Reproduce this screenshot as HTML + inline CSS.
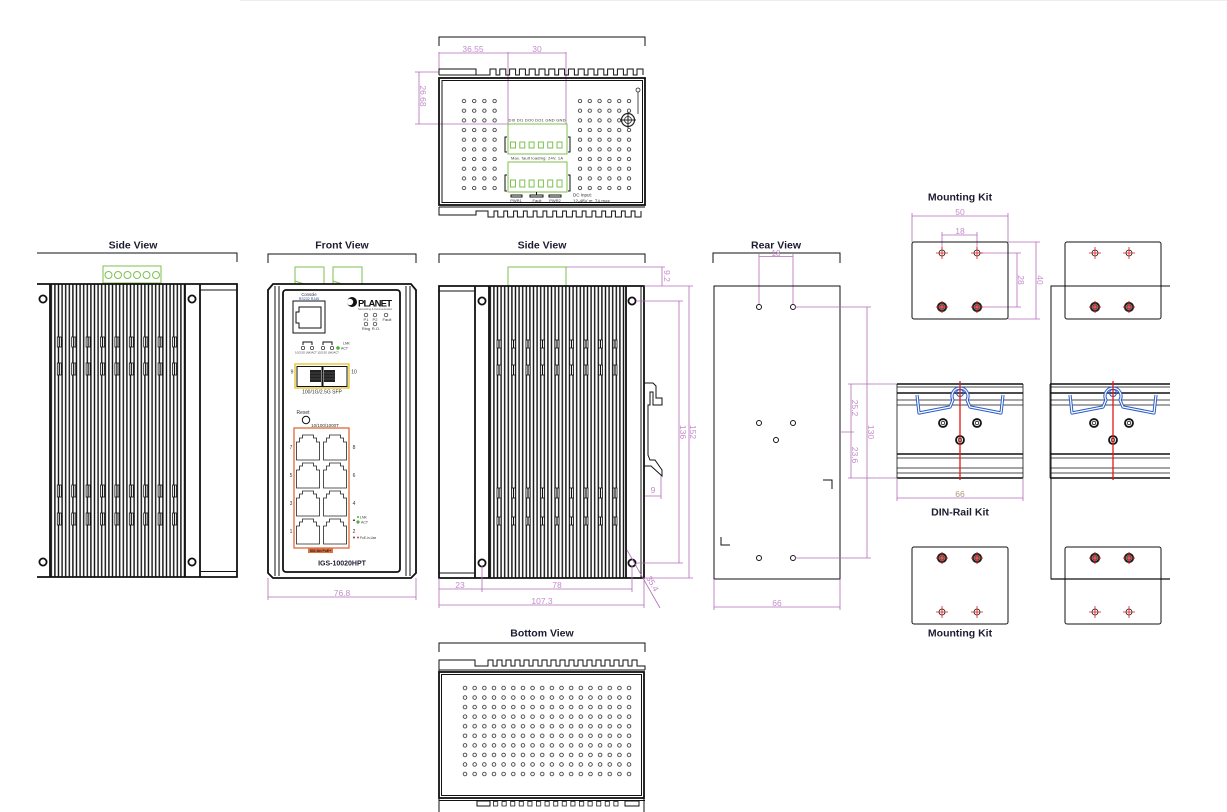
<!DOCTYPE html>
<html><head><meta charset="utf-8"><style>
html,body{margin:0;padding:0;background:#fff;width:1227px;height:812px;overflow:hidden}
svg{display:block}
text{font-family:"Liberation Sans",Arial,sans-serif}
.t{font-weight:bold;font-size:10.5px;fill:#1c1c30;text-anchor:middle}
.d{font-size:8.5px;fill:#c48ccc;text-anchor:middle}
.s{font-size:4px;fill:#333;text-anchor:middle}
.m{stroke:#b26cb8;stroke-width:.8;fill:none}
.g{stroke:#7cc24e;stroke-width:1;fill:none}
.k{stroke:#111;fill:none;stroke-width:1}
.K{stroke:#111;fill:none;stroke-width:1.8}
</style></head><body>
<svg width="1227" height="812" viewBox="0 0 1227 812" xmlns="http://www.w3.org/2000/svg">
<defs>
<pattern id="finL" x="50" y="0" width="3.6" height="10" patternUnits="userSpaceOnUse"><rect x="0.6" y="0" width="1.4" height="10" fill="#111"/></pattern>
<pattern id="finM" x="489" y="0" width="3.6" height="10" patternUnits="userSpaceOnUse"><rect x="0.6" y="0" width="1.4" height="10" fill="#111"/></pattern>
<pattern id="dT1" x="458.9" y="96.2" width="10.2" height="9.67" patternUnits="userSpaceOnUse"><circle cx="5.1" cy="4.83" r="1.7" fill="none" stroke="#222" stroke-width=".8"/></pattern>
<pattern id="dT2" x="575.1" y="96.2" width="9.8" height="9.67" patternUnits="userSpaceOnUse"><circle cx="4.9" cy="4.83" r="1.7" fill="none" stroke="#222" stroke-width=".8"/></pattern>
<pattern id="dB" x="460.2" y="683.2" width="9.65" height="9.56" patternUnits="userSpaceOnUse"><circle cx="4.82" cy="4.78" r="1.8" fill="none" stroke="#222" stroke-width=".8"/></pattern>
<pattern id="sq" x="493" y="801" width="8.6" height="6" patternUnits="userSpaceOnUse"><rect x=".4" y=".4" width="4.2" height="4.6" fill="none" stroke="#222" stroke-width=".8"/></pattern>
<path id="rj" d="M0,25 V7 H3 V3 H6 V0 H17 V3 H20 V7 H23 V25 Z" fill="none" stroke="#222" stroke-width=".8"/>
<g id="hx"><circle r="3" fill="#fff" stroke="#111" stroke-width=".8"/><path d="M-6,0 H6 M0,-6 V6" stroke="#e01818" stroke-width=".8"/></g>
<g id="hf"><circle r="4" fill="#fff" stroke="#222" stroke-width="2.2"/><circle r="2" fill="none" stroke="#111" stroke-width=".8"/><path d="M-6,0 H6 M0,-6 V6" stroke="#e01818" stroke-width="1"/></g>
<g id="ring"><circle r="4" fill="#fff" stroke="#111" stroke-width="1.8"/><circle r="1.8" fill="none" stroke="#111" stroke-width=".8"/></g>
<g id="scr"><circle r="3.6" fill="#fff" stroke="#111" stroke-width="1.8"/></g>
<g id="nt"><rect x="-2" y="0" width="4" height="1" fill="#fff"/></g>
<g id="clip"><path d="M-43,11 L-41,29 L-10,23 L-7,16 A8,8 0 1 1 7,16 L10,23 L41,29 L43,11" fill="none" stroke="#2a5cc8" stroke-width="3.2" stroke-linejoin="round"/><path d="M-43,11 L-41,29 L-10,23 L-7,16 A8,8 0 1 1 7,16 L10,23 L41,29 L43,11" fill="none" stroke="#fff" stroke-width="1.2" stroke-linejoin="round"/><circle cx="0" cy="9" r="3.5" fill="none" stroke="#2a5cc8" stroke-width="1"/></g>
</defs>

<line x1="240" y1="0.5" x2="1227" y2="0.5" stroke="#eee" stroke-width="1"/>

<!-- ================= TOP VIEW ================= -->
<path class="k" d="M439,46 V37 H645 V46"/>
<path class="m" d="M439,53 H566 M439,52 V72 M508,52 V124 M566,52 V124 M419,72 V124 M415,72 H439 M415,124 H508"/>
<text class="d" x="473" y="52">36.55</text>
<text class="d" x="537" y="52">30</text>
<text class="d" transform="translate(420,96) rotate(90)">26.68</text>
<path class="k" d="M439,75 V69 H476 V75 H490 v-6h6v6h3.8 v-6h6v6h3.8 v-6h6v6h3.8 v-6h6v6h3.8 v-6h6v6h3.8 v-6h6v6h3.8 v-6h6v6h3.8 v-6h6v6h3.8 v-6h6v6h3.8 v-6h6v6h3.8 v-6h6v6h3.8 v-6h6v6h3.8 v-6h6v6h3.8 v-6h6v6h3.8 v-6h6v6h3.8 v-6h6v6" />
<line x1="439" y1="75" x2="476" y2="75" stroke="#111"/>
<rect x="439" y="78" width="206" height="127" class="K"/>
<rect x="442" y="80.5" width="200.5" height="122" class="k" stroke-width=".8"/>
<path class="k" d="M439,207 H645 M439,207 V215 H476 V211 H488 v6h6v-6h3.8 v6h6v-6h3.8 v6h6v-6h3.8 v6h6v-6h3.8 v6h6v-6h3.8 v6h6v-6h3.8 v6h6v-6h3.8 v6h6v-6h3.8 v6h6v-6h3.8 v6h6v-6h3.8 v6h6v-6h3.8 v6h6v-6h3.8 v6h6v-6h3.8 v6h6v-6h3.8 v6h6v-6h3.8 v6h6v-6"/>
<rect x="458.9" y="96.2" width="40.8" height="96.7" fill="url(#dT1)"/>
<rect x="575.1" y="96.2" width="58.8" height="96.7" fill="url(#dT2)"/>
<circle cx="638" cy="90" r="2" fill="#fff" stroke="#222" stroke-width=".8"/>
<line x1="638" y1="92" x2="638" y2="114" stroke="#222" stroke-width=".8"/>
<circle cx="628" cy="120" r="6.5" fill="#fff" stroke="#222" stroke-width="1.2"/>
<circle cx="628" cy="120" r="3.5" fill="none" stroke="#222" stroke-width=".8"/>
<path d="M620,120 H636 M628,112 V128" stroke="#222" stroke-width="1"/>
<!-- terminals -->
<text class="s" x="537" y="121.5" textLength="57">DI0  DI1  DO0 DO1 GND GND</text>
<rect x="508" y="124" width="59" height="30" class="g"/>
<path class="k" d="M507,137 H505 V152 H507 M568,137 H570 V152 H568"/>
<g class="g"><rect x="510.5" y="142" width="5" height="6"/><rect x="519.8" y="142" width="5" height="6"/><rect x="529.1" y="142" width="5" height="6"/><rect x="538.4" y="142" width="5" height="6"/><rect x="547.7" y="142" width="5" height="6"/><rect x="557" y="142" width="5" height="6"/></g>
<text class="s" x="537" y="159.5" textLength="52">Max. fault loading: 24V, 1A</text>
<rect x="508" y="162" width="59" height="30" class="g"/>
<path class="k" d="M507,175 H505 V191 H507 M568,175 H570 V191 H568"/>
<g class="g"><rect x="510.5" y="180" width="5" height="7"/><rect x="519.8" y="180" width="5" height="7"/><rect x="529.1" y="180" width="5" height="7"/><rect x="538.4" y="180" width="5" height="7"/><rect x="547.7" y="180" width="5" height="7"/><rect x="557" y="180" width="5" height="7"/></g>
<path class="k" stroke-width=".7" d="M511,195 H522 V197 H511 Z M530,195 H543 V197 H530 Z M549,195 H561 V197 H549 Z M536.5,192 V195"/>
<text class="s" x="516" y="202">PWR1</text>
<text class="s" x="537" y="202">Fault</text>
<text class="s" x="555" y="202">PWR2</text>
<text class="s" x="573" y="196.5" style="text-anchor:start;font-size:4.5px">DC Input:</text>
<text class="s" x="573" y="202.5" style="text-anchor:start;font-size:4.5px">12-48V ⎓, 7A max.</text>

<!-- ================= LEFT SIDE VIEW ================= -->
<text class="t" x="133" y="248.5">Side View</text>
<path class="k" d="M37,253 H237 V262"/>
<rect x="103" y="266" width="58" height="17" class="g"/>
<g class="g"><circle cx="108.5" cy="275" r="3.5"/><circle cx="118" cy="275" r="3.5"/><circle cx="127.5" cy="275" r="3.5"/><circle cx="137" cy="275" r="3.5"/><circle cx="146.5" cy="275" r="3.5"/><circle cx="156" cy="275" r="3.5"/></g>
<rect x="50" y="284" width="135" height="293" fill="url(#finL)"/>
<g fill="#fff" stroke="#111" stroke-width=".8">
<rect x="57.3" y="337" width="4" height="10"/><rect x="71.7" y="337" width="4" height="10"/><rect x="86.1" y="337" width="4" height="10"/><rect x="100.5" y="337" width="4" height="10"/><rect x="114.9" y="337" width="4" height="10"/><rect x="129.3" y="337" width="4" height="10"/><rect x="143.7" y="337" width="4" height="10"/><rect x="158.1" y="337" width="4" height="10"/><rect x="172.5" y="337" width="4" height="10"/>
<rect x="57.3" y="363" width="4" height="12"/><rect x="71.7" y="363" width="4" height="12"/><rect x="86.1" y="363" width="4" height="12"/><rect x="100.5" y="363" width="4" height="12"/><rect x="114.9" y="363" width="4" height="12"/><rect x="129.3" y="363" width="4" height="12"/><rect x="143.7" y="363" width="4" height="12"/><rect x="158.1" y="363" width="4" height="12"/><rect x="172.5" y="363" width="4" height="12"/>
<rect x="57.3" y="485" width="4" height="12"/><rect x="71.7" y="485" width="4" height="12"/><rect x="86.1" y="485" width="4" height="12"/><rect x="100.5" y="485" width="4" height="12"/><rect x="114.9" y="485" width="4" height="12"/><rect x="129.3" y="485" width="4" height="12"/><rect x="143.7" y="485" width="4" height="12"/><rect x="158.1" y="485" width="4" height="12"/><rect x="172.5" y="485" width="4" height="12"/>
<rect x="57.3" y="513" width="4" height="12"/><rect x="71.7" y="513" width="4" height="12"/><rect x="86.1" y="513" width="4" height="12"/><rect x="100.5" y="513" width="4" height="12"/><rect x="114.9" y="513" width="4" height="12"/><rect x="129.3" y="513" width="4" height="12"/><rect x="143.7" y="513" width="4" height="12"/><rect x="158.1" y="513" width="4" height="12"/><rect x="172.5" y="513" width="4" height="12"/>
</g>
<g stroke="#111" stroke-width="1.2">
<path d="M59.3,337 V347 M73.7,337 V347 M88.1,337 V347 M102.5,337 V347 M116.9,337 V347 M131.3,337 V347 M145.7,337 V347 M160.1,337 V347 M174.5,337 V347"/>
<path d="M59.3,363 V375 M73.7,363 V375 M88.1,363 V375 M102.5,363 V375 M116.9,363 V375 M131.3,363 V375 M145.7,363 V375 M160.1,363 V375 M174.5,363 V375"/>
<path d="M59.3,485 V497 M73.7,485 V497 M88.1,485 V497 M102.5,485 V497 M116.9,485 V497 M131.3,485 V497 M145.7,485 V497 M160.1,485 V497 M174.5,485 V497"/>
<path d="M59.3,513 V525 M73.7,513 V525 M88.1,513 V525 M102.5,513 V525 M116.9,513 V525 M131.3,513 V525 M145.7,513 V525 M160.1,513 V525 M174.5,513 V525"/>
</g>
<path class="K" d="M37,284 H237 V577 H37 M50,284 V577 M185,284 V577 M200,284 V577"/>
<path class="k" d="M200,290 H237 M200,571.5 H237"/>
<use href="#scr" x="43" y="299"/><use href="#scr" x="43" y="562"/>
<use href="#scr" x="192" y="299"/><use href="#scr" x="192" y="562"/>

<!-- ================= FRONT VIEW ================= -->
<text class="t" x="342" y="248.5">Front View</text>
<path class="k" d="M268,263 V254 H416 V263"/>
<path class="g" d="M295,284 V267 H324 V284 M295,281 L304,284 M333,284 V267 H362 V284 M333,281 L342,284"/>
<path class="K" d="M273,284 H411 L416,290 V573 L411,578 H273 L268,573 V290 Z"/>
<path class="k" d="M275,286 V576 M279,286 V576 M406,286 V576 M410,286 V576"/>
<rect x="283" y="290" width="117" height="282" rx="3" class="K" stroke-width="1.5"/>
<text class="s" x="309" y="296" style="font-size:4.2px">Console</text>
<text class="s" x="309" y="299.8" style="font-size:3.6px;fill:#2a4aa0">RS232 RJ45</text>
<rect x="293" y="301" width="32" height="32" class="k"/>
<path class="k" stroke-width=".8" d="M299,307 H321 V328 H299 V323 H296 V312 H299 Z"/>
<circle cx="352" cy="302" r="5" fill="#111"/>
<circle cx="350" cy="302" r="3.2" fill="#fff"/>
<text x="358" y="306.5" style="font-size:9.5px;font-weight:bold;fill:#111" textLength="34">PLANET</text>
<text x="358" y="310" style="font-size:2.6px;fill:#555">Networking &amp; Communication</text>
<g fill="#fff" stroke="#222" stroke-width=".7"><circle cx="366" cy="315" r="1.8"/><circle cx="375" cy="315" r="1.8"/><circle cx="386" cy="315" r="1.8"/><circle cx="366" cy="324" r="1.8"/><circle cx="375" cy="324" r="1.8"/></g>
<text class="s" x="366" y="321">P1</text><text class="s" x="375" y="321">P2</text><text class="s" x="387" y="321">Fault</text>
<text class="s" x="366" y="330">Ring</text><text class="s" x="376" y="330">R.O.</text>
<path class="k" stroke-width=".6" d="M303,345 V342 H312 V345 M323,345 V342 H332 V345"/>
<g fill="#fff" stroke="#222" stroke-width=".7"><circle cx="303" cy="348" r="1.7"/><circle cx="312" cy="348" r="1.7"/><circle cx="323" cy="348" r="1.7"/><circle cx="332" cy="348" r="1.7"/></g>
<circle cx="338" cy="348" r="1.8" fill="#4caf3c"/>
<text class="s" x="343" y="344.5" style="text-anchor:start;font-size:3.5px">LNK</text>
<text class="s" x="341" y="349.5" style="text-anchor:start;font-size:3.5px">ACT</text>
<text class="s" x="317" y="353.5" style="font-size:2.6px">1G/2.5G LNK/ACT 1G/2.5G LNK/ACT</text>
<rect x="295" y="364" width="54" height="24" fill="none" stroke="#e8c020" stroke-width="1.3"/>
<rect x="297" y="366.5" width="25" height="20" class="k" stroke-width=".8"/>
<rect x="323" y="366.5" width="24" height="20" class="k" stroke-width=".8"/>
<rect x="310" y="370" width="11" height="12" fill="#222"/>
<rect x="324" y="370" width="11" height="12" fill="#222"/>
<path d="M310,373 H335 M310,376 H335 M310,379 H335" stroke="#666" stroke-width=".5"/>
<text class="s" x="292" y="373.5" style="font-size:5px">9</text>
<text class="s" x="354" y="373.5" style="font-size:5px">10</text>
<text class="s" x="322" y="393.5" style="font-size:5px">100/1G/2.5G SFP</text>
<text class="s" x="303" y="414" style="font-size:5px">Reset</text>
<circle cx="306" cy="420" r="3.7" class="k"/>
<text class="s" x="325" y="427" style="font-size:4.5px">10/100/1000T</text>
<rect x="294" y="428" width="55" height="120" fill="none" stroke="#e06a3a" stroke-width="1.3"/>
<use href="#rj" x="296.5" y="435"/><use href="#rj" x="323.5" y="435"/>
<use href="#rj" x="296.5" y="463"/><use href="#rj" x="323.5" y="463"/>
<use href="#rj" x="296.5" y="491"/><use href="#rj" x="323.5" y="491"/>
<use href="#rj" x="296.5" y="519"/><use href="#rj" x="323.5" y="519"/>
<g class="s" style="font-size:5px"><text x="291" y="449">7</text><text x="291" y="477">5</text><text x="291" y="505">3</text><text x="291" y="533">1</text>
<text x="354" y="449">8</text><text x="354" y="477">6</text><text x="354" y="505">4</text><text x="354" y="533">2</text></g>
<text class="s" x="354" y="521" style="font-size:4px">▲</text>
<circle cx="358" cy="517" r="1" fill="#4caf3c"/>
<text class="s" x="360" y="518.5" style="text-anchor:start;font-size:3.5px">LNK</text>
<circle cx="358" cy="522" r="1.6" fill="#4caf3c"/>
<text class="s" x="361" y="523.5" style="text-anchor:start;font-size:3.5px">ACT</text>
<text class="s" x="354" y="539" style="font-size:4px">▼</text>
<circle cx="358" cy="537.5" r="1" fill="#e04040"/>
<text class="s" x="360" y="539" style="text-anchor:start;font-size:3.2px">PoE-in-Use</text>
<rect x="308" y="548" width="25" height="5" fill="#e07040"/>
<text class="s" x="320.5" y="552" style="font-size:3.4px;fill:#222;font-weight:bold">802.3bt PoE+</text>
<text x="342" y="565.5" style="font-size:7px;font-weight:bold;fill:#1c1c30;text-anchor:middle">IGS-10020HPT</text>
<path class="m" d="M268,578 V600 M416,578 V600 M268,597 H416"/>
<text class="d" x="342" y="596">76.8</text>

<!-- ================= MIDDLE SIDE VIEW ================= -->
<text class="t" x="542" y="248.5">Side View</text>
<path class="k" d="M439,263 V254 H645 V263"/>
<path class="g" d="M508,286 V267 H566 V286"/>
<path class="m" d="M566,267 H665 M662,267 V286"/>
<text class="d" transform="translate(664,276) rotate(90)">9.2</text>
<rect x="489" y="286" width="137" height="292" fill="url(#finM)"/>
<g fill="#fff" stroke="#111" stroke-width=".8">
<rect x="497" y="340" width="4" height="8"/><rect x="511.5" y="340" width="4" height="8"/><rect x="526" y="340" width="4" height="8"/><rect x="540.5" y="340" width="4" height="8"/><rect x="555" y="340" width="4" height="8"/><rect x="569.5" y="340" width="4" height="8"/><rect x="584" y="340" width="4" height="8"/><rect x="598.5" y="340" width="4" height="8"/><rect x="613" y="340" width="4" height="8"/>
<rect x="497" y="365" width="4" height="10"/><rect x="511.5" y="365" width="4" height="10"/><rect x="526" y="365" width="4" height="10"/><rect x="540.5" y="365" width="4" height="10"/><rect x="555" y="365" width="4" height="10"/><rect x="569.5" y="365" width="4" height="10"/><rect x="584" y="365" width="4" height="10"/><rect x="598.5" y="365" width="4" height="10"/><rect x="613" y="365" width="4" height="10"/>
<rect x="497" y="488" width="4" height="10"/><rect x="511.5" y="488" width="4" height="10"/><rect x="526" y="488" width="4" height="10"/><rect x="540.5" y="488" width="4" height="10"/><rect x="555" y="488" width="4" height="10"/><rect x="569.5" y="488" width="4" height="10"/><rect x="584" y="488" width="4" height="10"/><rect x="598.5" y="488" width="4" height="10"/><rect x="613" y="488" width="4" height="10"/>
<rect x="497" y="517" width="4" height="8"/><rect x="511.5" y="517" width="4" height="8"/><rect x="526" y="517" width="4" height="8"/><rect x="540.5" y="517" width="4" height="8"/><rect x="555" y="517" width="4" height="8"/><rect x="569.5" y="517" width="4" height="8"/><rect x="584" y="517" width="4" height="8"/><rect x="598.5" y="517" width="4" height="8"/><rect x="613" y="517" width="4" height="8"/>
</g>
<g stroke="#111" stroke-width="1.2">
<path d="M499,340 V348 M513.5,340 V348 M528,340 V348 M542.5,340 V348 M557,340 V348 M571.5,340 V348 M586,340 V348 M600.5,340 V348 M615,340 V348"/>
<path d="M499,365 V375 M513.5,365 V375 M528,365 V375 M542.5,365 V375 M557,365 V375 M571.5,365 V375 M586,365 V375 M600.5,365 V375 M615,365 V375"/>
<path d="M499,488 V498 M513.5,488 V498 M528,488 V498 M542.5,488 V498 M557,488 V498 M571.5,488 V498 M586,488 V498 M600.5,488 V498 M615,488 V498"/>
<path d="M499,517 V525 M513.5,517 V525 M528,517 V525 M542.5,517 V525 M557,517 V525 M571.5,517 V525 M586,517 V525 M600.5,517 V525 M615,517 V525"/>
</g>
<path class="K" d="M439,286 H644 V578 H439 Z M475,286 V578 M489,286 V578 M626,286 V578"/>
<path class="k" d="M439,291 H475 M439,573 H475 M641,286 V578"/>
<use href="#scr" x="482" y="301"/><use href="#scr" x="482" y="563"/>
<use href="#scr" x="632" y="301"/><use href="#scr" x="632" y="563"/>
<path class="k" stroke-width=".8" d="M644,383 H653 L656,386 V398 H662 V405 H653 V392 H650 V405 H648 V455 L650,460 H655 L662,470 V476 L651,466 H644"/>
<path class="m" d="M644,286 H693 M644,578 H693 M689,286 V578 M636,301 H683 M636,563 H683 M679,301 V563 M661,476 V499 M645,496 H661"/>
<text class="d" transform="translate(690,432) rotate(90)">152</text>
<text class="d" transform="translate(680,432) rotate(90)">136</text>
<text class="d" x="653" y="493">9</text>
<path class="m" d="M439,578 V608 M482,566 V592 M632,566 V592 M644,578 V608 M439,589 H632 M439,605 H644 M627,550 L660,608"/>
<text class="d" x="460" y="588">23</text>
<text class="d" x="557" y="588">78</text>
<text class="d" x="542" y="604">107.3</text>
<text class="d" transform="translate(650,585) rotate(60)">35.4</text>

<!-- ================= REAR VIEW ================= -->
<text class="t" x="776" y="248.5">Rear View</text>
<path class="k" d="M713,263 V253 H840 V263"/>
<path class="m" d="M759,256.5 H793 M759,254 V304 M793,254 V304"/>
<text class="d" x="776" y="256" style="font-size:8px">18</text>
<rect x="714" y="286" width="126" height="293" class="k" stroke-width="1.3"/>
<g fill="#fff" stroke="#111" stroke-width="1"><circle cx="759" cy="307" r="2.5"/><circle cx="793" cy="307" r="2.5"/><circle cx="759" cy="423" r="2.5"/><circle cx="793" cy="423" r="2.5"/><circle cx="776" cy="440" r="2.5"/><circle cx="759" cy="558" r="2.5"/><circle cx="793" cy="558" r="2.5"/></g>
<path class="k" d="M823,480 H832 V489 M721,537 V545 H730"/>
<path class="m" d="M795,307 H871 M795,558 H871 M867,307 V558 M848,384 H897 M848,478 H897 M851,384 V478 M840,432 H854"/>
<text class="d" transform="translate(868,432) rotate(90)">130</text>
<text class="d" transform="translate(852,408) rotate(90)">25.2</text>
<text class="d" transform="translate(852,455) rotate(90)">23.6</text>
<path class="m" d="M714,579 V610 M840,579 V610 M714,607 H840"/>
<text class="d" x="777" y="606">66</text>

<!-- ================= MOUNTING KIT (TOP) ================= -->
<text class="t" x="960" y="200.5">Mounting Kit</text>
<path class="m" d="M912,213 V242 M1008,213 V242 M912,216 H1008 M942,232 V250 M977,232 V250 M942,235 H977 M980,253 H1021 M980,307 H1021 M1017,253 V307 M1008,242 H1040 M1008,319 H1040 M1036,242 V319"/>
<text class="d" x="960" y="215">50</text>
<text class="d" x="960" y="234">18</text>
<text class="d" transform="translate(1018,280) rotate(90)">28</text>
<text class="d" transform="translate(1037,280) rotate(90)">40</text>
<rect x="912" y="242" width="96" height="77" rx="2" class="k" stroke-width="1.3"/>
<use href="#hx" x="942" y="253"/><use href="#hx" x="977" y="253"/>
<use href="#hf" x="942" y="307"/><use href="#hf" x="977" y="307"/>
<rect x="1065" y="242" width="96" height="77" rx="2" class="k" stroke-width="1.3"/>
<use href="#hx" x="1095" y="253"/><use href="#hx" x="1129" y="253"/>
<use href="#hf" x="1095" y="307"/><use href="#hf" x="1129" y="307"/>
<path class="k" stroke-width="1.2" d="M1170,286 H1051 V579 H1170"/>

<!-- ================= DIN RAIL LEFT ================= -->
<g stroke="#111" fill="none">
<path stroke-width="1.6" d="M897,384 H1023 M897,393 H1023 M897,454 H1023 M897,478 H1023"/>
<path stroke-width=".8" d="M897,387 H1023 M897,400 H1023 M897,405 H1023 M897,458 H1023 M897,468 H1023 M897,473 H1023 M897,384 V478 M1023,384 V478"/>
</g>
<use href="#ring" x="943" y="423"/><use href="#ring" x="977" y="423"/><use href="#ring" x="960" y="440"/>
<use href="#clip" x="960" y="384"/>
<line x1="960" y1="381" x2="960" y2="480" stroke="#e01818" stroke-width="1.3"/>
<path class="m" d="M897,478 V501 M1023,478 V501 M897,498 H1023"/>
<text x="960" y="497" style="font-size:8.5px;fill:#a89878;text-anchor:middle">66</text>
<text class="t" x="960" y="515.5">DIN-Rail Kit</text>

<!-- ================= DIN RAIL RIGHT ================= -->
<g stroke="#111" fill="none">
<path stroke-width="1.6" d="M1050,384 H1170 M1050,393 H1170 M1050,454 H1170 M1050,478 H1170"/>
<path stroke-width=".8" d="M1050,387 H1170 M1050,400 H1170 M1050,405 H1170 M1050,458 H1170 M1050,468 H1170 M1050,473 H1170 M1050,384 V478"/>
</g>
<use href="#ring" x="1094" y="423"/><use href="#ring" x="1129" y="423"/><use href="#ring" x="1113" y="440"/>
<use href="#clip" x="1113" y="384"/>
<line x1="1113" y1="381" x2="1113" y2="480" stroke="#e01818" stroke-width="1.3"/>

<!-- ================= MOUNTING KIT (BOTTOM) ================= -->
<rect x="912" y="547" width="96" height="77" rx="2" class="k" stroke-width="1.3"/>
<use href="#hf" x="942" y="558"/><use href="#hf" x="977" y="558"/>
<use href="#hx" x="942" y="612"/><use href="#hx" x="977" y="612"/>
<rect x="1065" y="547" width="96" height="77" rx="2" class="k" stroke-width="1.3"/>
<use href="#hf" x="1095" y="558"/><use href="#hf" x="1129" y="558"/>
<use href="#hx" x="1095" y="612"/><use href="#hx" x="1129" y="612"/>
<line x1="1051" y1="579" x2="1170" y2="579" stroke="#111" stroke-width="1.2"/>
<text class="t" x="960" y="636.5">Mounting Kit</text>

<!-- ================= BOTTOM VIEW ================= -->
<text class="t" x="542" y="636.5">Bottom View</text>
<path class="k" d="M439,652 V643 H645 V652"/>
<path class="k" d="M439,667 V660 H475 V666 H488 v-6h5v6h4 v-6h5v6h4 v-6h5v6h4 v-6h5v6h4 v-6h5v6h4 v-6h5v6h4 v-6h5v6h4 v-6h5v6h4 v-6h5v6h4 v-6h5v6h4 v-6h5v6h4 v-6h5v6h4 v-6h5v6h4 v-6h5v6h4 v-6h5v6h4 v-6h5v6h4 v-6h5v6 H645 V670 M439,667 V672 M439,670 H645"/>
<rect x="439" y="672" width="205" height="126" class="K"/>
<rect x="441.5" y="674.5" width="200" height="121" class="k" stroke-width=".8"/>
<rect x="460.2" y="683.2" width="173.7" height="95.6" fill="url(#dB)"/>
<line x1="439" y1="800.5" x2="645" y2="800.5" stroke="#111" stroke-width="1"/>
<rect x="477" y="801" width="13" height="5" class="k" stroke-width=".8"/>
<rect x="493" y="801" width="129" height="6" fill="url(#sq)"/>
<rect x="625" y="801" width="14" height="5" class="k" stroke-width=".8"/>
<path class="k" d="M439,798 V812 M644,798 V812"/>
</svg>
</body></html>
